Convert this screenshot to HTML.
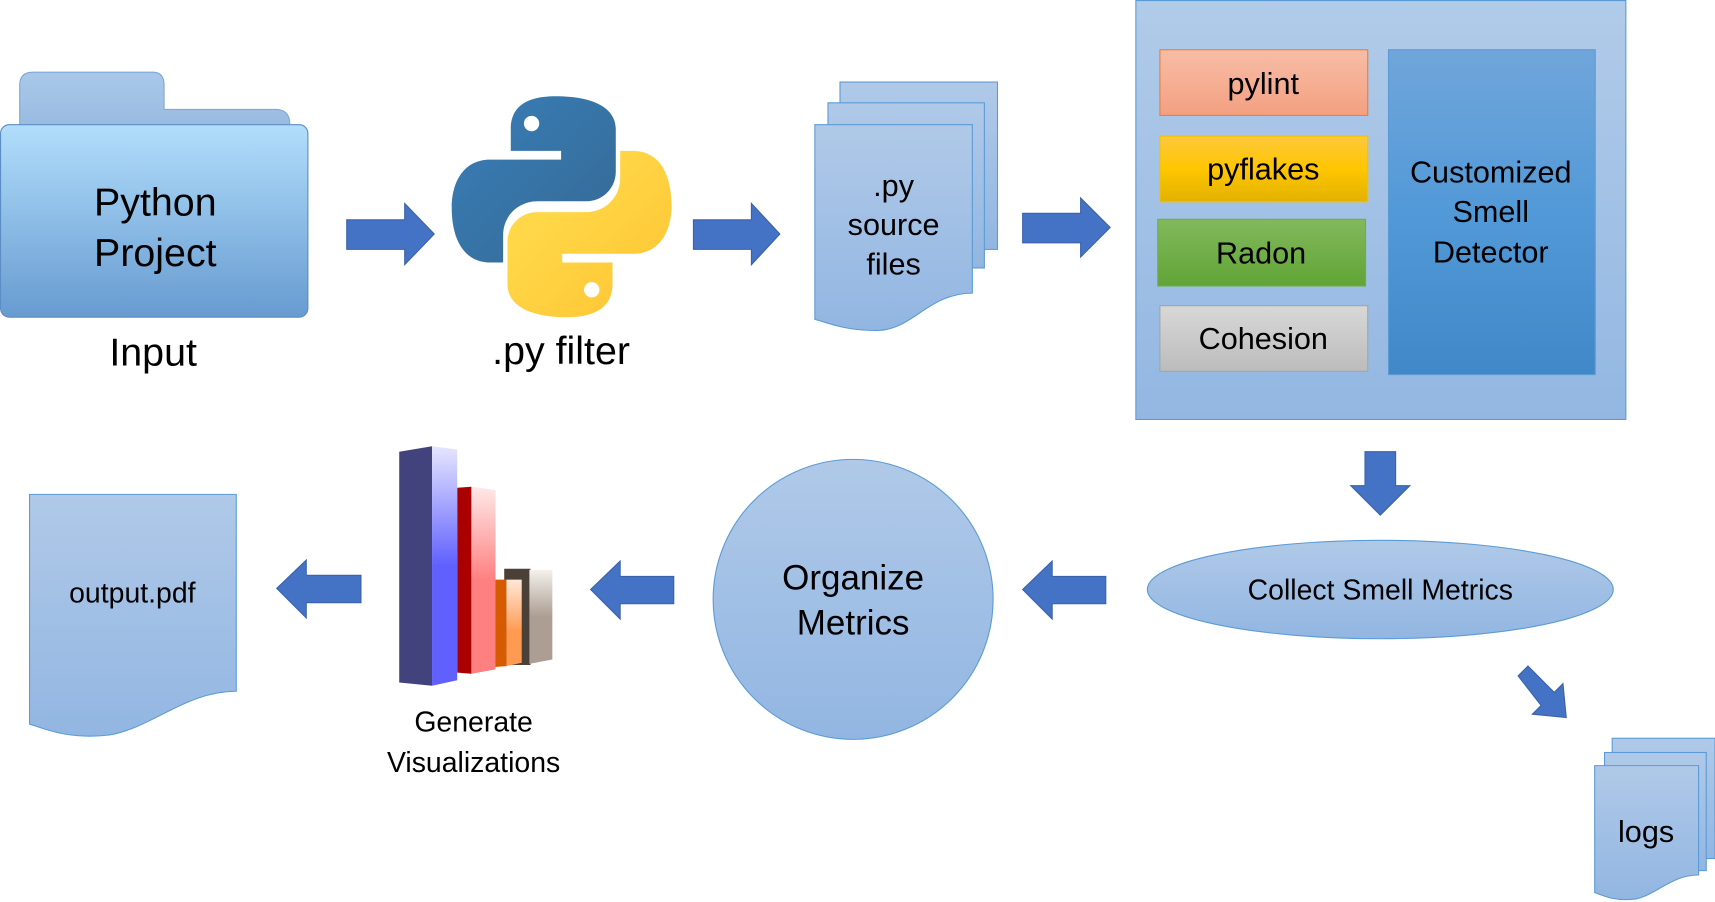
<!DOCTYPE html>
<html><head><meta charset="utf-8"><style>
html,body{margin:0;padding:0;background:#fff;}
svg{display:block}
text{font-family:"Liberation Sans",sans-serif;fill:#000;text-anchor:middle;}
</style></head><body>
<svg width="1715" height="902" viewBox="0 0 1568 824.7" xmlns="http://www.w3.org/2000/svg">
<defs>
<linearGradient id="fold" x1="0" y1="0" x2="0" y2="1"><stop offset="0" stop-color="#b2defc"/><stop offset="1" stop-color="#679bd0"/></linearGradient>
<linearGradient id="tab" x1="0" y1="0" x2="0" y2="1"><stop offset="0" stop-color="#a9c8ea"/><stop offset="1" stop-color="#8fb2da"/></linearGradient>
<linearGradient id="doc" x1="0" y1="0" x2="0" y2="1"><stop offset="0" stop-color="#b0c9e8"/><stop offset="1" stop-color="#92b6e2"/></linearGradient>
<linearGradient id="cont" x1="0" y1="0" x2="0" y2="1"><stop offset="0" stop-color="#b1cbe9"/><stop offset="1" stop-color="#93b7e2"/></linearGradient>
<linearGradient id="g1" x1="0" y1="0" x2="0" y2="1"><stop offset="0" stop-color="#f7bda7"/><stop offset="1" stop-color="#f4a081"/></linearGradient>
<linearGradient id="g2" x1="0" y1="0" x2="0" y2="1"><stop offset="0" stop-color="#fdc83c"/><stop offset=".5" stop-color="#ffc600"/><stop offset="1" stop-color="#e2b200"/></linearGradient>
<linearGradient id="g3" x1="0" y1="0" x2="0" y2="1"><stop offset="0" stop-color="#82b95c"/><stop offset="1" stop-color="#61a436"/></linearGradient>
<linearGradient id="g4" x1="0" y1="0" x2="0" y2="1"><stop offset="0" stop-color="#d8d8d8"/><stop offset="1" stop-color="#bcbcbc"/></linearGradient>
<linearGradient id="g5" x1="0" y1="0" x2="0" y2="1"><stop offset="0" stop-color="#70a6da"/><stop offset=".5" stop-color="#5299d8"/><stop offset="1" stop-color="#4088c7"/></linearGradient>
<linearGradient id="pb" x1="0" y1="0" x2="1" y2="1"><stop offset="0" stop-color="#387eb8"/><stop offset="1" stop-color="#366994"/></linearGradient>
<linearGradient id="py" x1="0" y1="0" x2="1" y2="1"><stop offset="0" stop-color="#ffe052"/><stop offset="1" stop-color="#ffc331"/></linearGradient>
<linearGradient id="b1" x1="0" y1="0" x2="0" y2="1"><stop offset="0" stop-color="#e6e6ff"/><stop offset=".5" stop-color="#6060ff"/><stop offset="1" stop-color="#6060ff"/></linearGradient>
<linearGradient id="b2" x1="0" y1="0" x2="0" y2="1"><stop offset="0" stop-color="#ffe8e8"/><stop offset=".5" stop-color="#ff8080"/><stop offset="1" stop-color="#ff8080"/></linearGradient>
<linearGradient id="b3" x1="0" y1="0" x2="0" y2="1"><stop offset="0" stop-color="#ffe8d8"/><stop offset=".6" stop-color="#ff9a50"/><stop offset="1" stop-color="#ff9a50"/></linearGradient>
<linearGradient id="b4" x1="0" y1="0" x2="0" y2="1"><stop offset="0" stop-color="#f4f0ec"/><stop offset=".5" stop-color="#ac9e92"/><stop offset="1" stop-color="#ac9e92"/></linearGradient>
</defs>

<path d="M18,78 Q18,66 30,66 H140 Q150,66 150,78 V100 H252 Q265,100 265,114 V150 H18 Z" fill="url(#tab)" stroke="#7ea6d4"/>
<rect x="0.5" y="114" width="281" height="176" rx="8" fill="url(#fold)" stroke="#5a8cc4"/>
<text x="142" y="197" font-size="36">Python</text>
<text x="142" y="243" font-size="36">Project</text>
<text x="140" y="334" font-size="36">Input</text>

<path d="M317,201 H370 V186 L397,214 L370,242 V228 H317 Z" fill="#4472c4" stroke="#3a62aa"/>
<path d="M634,201 H687 V186 L713,214 L687,242 V228 H634 Z" fill="#4472c4" stroke="#3a62aa"/>
<path d="M935,195 H988 V181 L1015,208 L988,235 V222 H935 Z" fill="#4472c4" stroke="#3a62aa"/>

<path d="M508,88 C478,88 467,100 467,118 V138 H513 V146 H448 C425,146 413,165 413,190 C413,220 425,240 448,240 H460 V215 C460,198 473,184 492,184 H536 C551,184 563,172 563,157 V118 C563,100 545,88 508,88 Z" fill="url(#pb)"/>
<circle cx="486" cy="113" r="7" fill="#fff"/>
<path d="M518,290 C548,290 560,278 560,260 V240 H514 V232 H579 C602,232 614,213 614,188 C614,158 602,138 579,138 H567 V163 C567,180 554,194 535,194 H491 C476,194 464,206 464,221 V260 C464,278 482,290 518,290 Z" fill="url(#py)"/>
<circle cx="541" cy="265" r="7" fill="#fff"/>
<text x="513" y="333" font-size="36">.py filter</text>

<rect x="768" y="75" width="144" height="153" fill="url(#doc)" stroke="#5b9bd5"/>
<rect x="757" y="94" width="143" height="151" fill="url(#doc)" stroke="#5b9bd5"/>
<path d="M745,114 H889 V268 C850,268 835,300 805,302 C775,303 760,296 745,292 Z" fill="url(#doc)" stroke="#5b9bd5"/>
<text x="817" y="179" font-size="28">.py</text>
<text x="817" y="215" font-size="28">source</text>
<text x="817" y="251" font-size="28">files</text>

<rect x="1038.5" y="0.5" width="448" height="383" fill="url(#cont)" stroke="#5b9bd5"/>
<rect x="1060.5" y="45.5" width="190" height="60" fill="url(#g1)" stroke="#ed7d31"/>
<text x="1155" y="86" font-size="28">pylint</text>
<rect x="1060.5" y="124.5" width="190" height="60" fill="url(#g2)" stroke="#f2c200"/>
<text x="1155" y="164" font-size="28">pyflakes</text>
<rect x="1058.5" y="200.5" width="190" height="61" fill="url(#g3)" stroke="#6fae45"/>
<text x="1153" y="241" font-size="28">Radon</text>
<rect x="1060.5" y="279.5" width="190" height="60" fill="url(#g4)" stroke="#a5a5a5"/>
<text x="1155" y="319" font-size="28">Cohesion</text>
<rect x="1269.5" y="45.5" width="189" height="297" fill="url(#g5)" stroke="#5b9bd5"/>
<text x="1363" y="167" font-size="28">Customized</text>
<text x="1363" y="203" font-size="28">Smell</text>
<text x="1363" y="240" font-size="28">Detector</text>

<path d="M1248,413 H1276 V444 H1289 L1262,471 L1235,444 H1248 Z" fill="#4472c4" stroke="#3a62aa"/>

<ellipse cx="1262" cy="539" rx="213" ry="45" fill="url(#doc)" stroke="#5b9bd5"/>
<text x="1262" y="548" font-size="26">Collect Smell Metrics</text>

<path d="M1011,527 V552 H962 V566 L935,539 L962,513 V527 Z" fill="#4472c4" stroke="#3a62aa"/>
<path d="M616,527 V552 H567 V566 L540,539 L567,513 V527 Z" fill="#4472c4" stroke="#3a62aa"/>
<path d="M330,526 V551 H280 V565 L253,538 L280,512 V526 Z" fill="#4472c4" stroke="#3a62aa"/>

<circle cx="780" cy="548" r="128" fill="url(#doc)" stroke="#5b9bd5"/>
<text x="780" y="539" font-size="32">Organize</text>
<text x="780" y="580" font-size="32">Metrics</text>

<rect x="461" y="520" width="24" height="88" fill="#4a4038"/>
<polygon points="484,521 505,521 505,603 484,607" fill="url(#b4)"/>
<polygon points="451,530 463,530 463,609 451,610" fill="#d65a00"/>
<polygon points="463,530 477,530 477,606 463,609" fill="url(#b3)"/>
<polygon points="418,446 431,445 431,616 418,615" fill="#aa0000"/>
<polygon points="431,445 453,448 453,612 431,616" fill="url(#b2)"/>
<polygon points="365,413 395,408 395,627 365,624" fill="#42427c"/>
<polygon points="395,408 418,411 418,622 395,627" fill="url(#b1)"/>
<text x="433" y="669" font-size="26">Generate</text>
<text x="433" y="706" font-size="26">Visualizations</text>

<path d="M27,452 H216 V632 C170,632 140,665 100,672 C65,676 45,668 27,662 Z" fill="url(#doc)" stroke="#5b9bd5"/>
<text x="121" y="551" font-size="26">output.pdf</text>

<path d="M1388,618 L1397,609 L1421,633 L1429,625 L1432,656 L1401,653 L1409,645 Z" fill="#4472c4" stroke="#3a62aa"/>

<rect x="1474" y="675" width="94" height="110" fill="url(#doc)" stroke="#5b9bd5"/>
<rect x="1467" y="688" width="93" height="108" fill="url(#doc)" stroke="#5b9bd5"/>
<path d="M1458,700 H1553 V800 C1528,800 1515,818 1495,822 C1478,824 1468,820 1458,816 Z" fill="url(#doc)" stroke="#5b9bd5"/>
<text x="1505" y="770" font-size="28">logs</text>
</svg>
</body></html>
